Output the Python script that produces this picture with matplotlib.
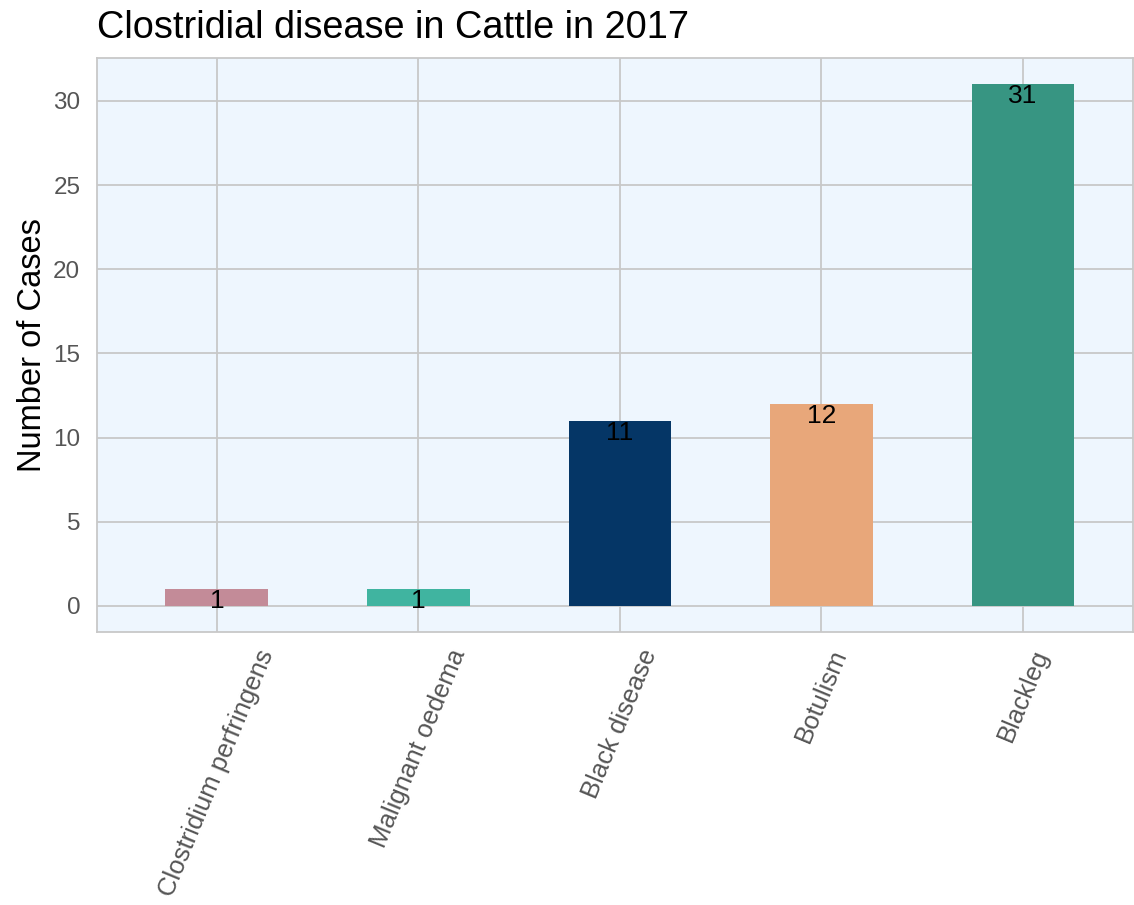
import matplotlib
matplotlib.use("Agg")
import matplotlib.pyplot as plt

plt.rcParams['font.family'] = ['Liberation Sans', 'DejaVu Sans']

# data
diseases = ["Clostridium perfringens", "Malignant oedema", "Black disease", "Botulism", "Blackleg"]
cases = [1, 1, 11, 12, 31]
colors = ["#C38B98", "#40B4A0", "#053666", "#E8A77A", "#379582"]

fig = plt.figure(figsize=(11.34, 9.05), dpi=100)
ax = fig.add_axes([0.0855, 0.3017, 0.9135, 0.6343])
ax.set_facecolor("#EEF6FE")
ax.set_axisbelow(True)
ax.grid(True, color="#C8C8C8", linewidth=1.3)

x = list(range(len(diseases)))
bars = ax.bar(x, cases, width=0.51, color=colors)
for xi, v in zip(x, cases):
    ax.text(xi, v, str(v), ha="center", va="top", fontsize=19, color="black")

ax.set_xlim(-0.595, 4.545)
ax.set_ylim(-1.55, 32.55)
ax.set_xticks(x)
ax.set_xticklabels(diseases, rotation=67.5, ha="center", fontsize=18.5, color="#555555")
ax.set_yticks([0, 5, 10, 15, 20, 25, 30])
ax.tick_params(axis="y", labelsize=17.5, labelcolor="#555555", length=0, pad=12)
ax.tick_params(axis="x", length=0, pad=10)
for s in ax.spines.values():
    s.set_color("#C8C8C8")
    s.set_linewidth(1.3)

ax.set_ylabel("Number of Cases", fontsize=23.5, labelpad=4)
fig.text(0.0855, 0.969, "Clostridial disease in Cattle in 2017", fontsize=27.3, va="center", ha="left")

fig.savefig("out.png", dpi=100)
